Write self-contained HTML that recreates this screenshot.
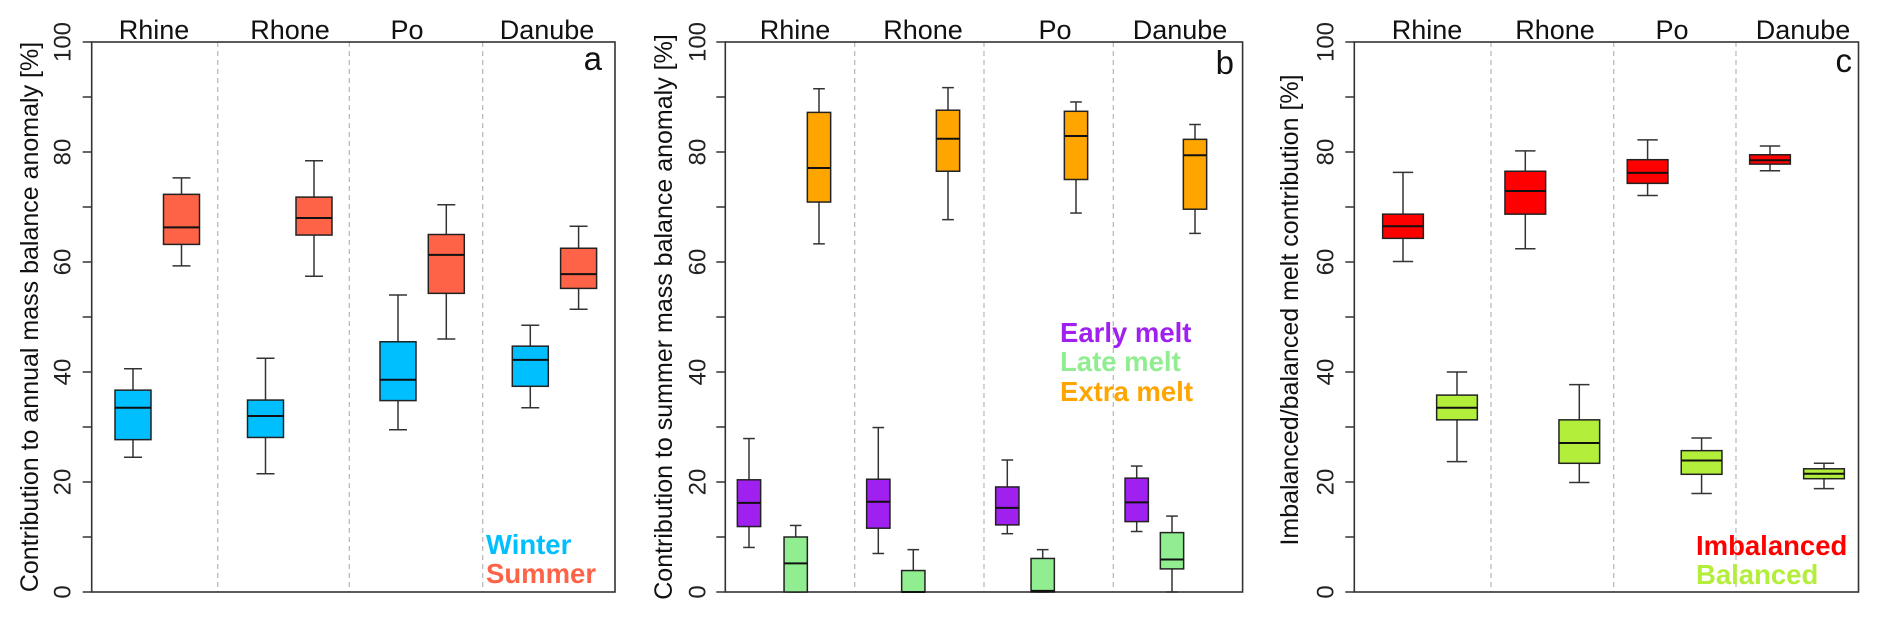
<!DOCTYPE html>
<html><head><meta charset="utf-8"><style>
html,body{margin:0;padding:0;background:#fff}
svg{display:block;font-family:"Liberation Sans",Arial,sans-serif}
</style></head><body>
<svg id="fig" width="1892" height="617" viewBox="0 0 1892 617" xmlns="http://www.w3.org/2000/svg"></svg>
<script>
// ---------- data (stats: [whiskerHigh, Q3, median, Q1, whiskerLow]) ----------
const categories = ["Rhine", "Rhone", "Po", "Danube"];
const yTicks = [0, 10, 20, 30, 40, 50, 60, 70, 80, 90, 100];
const yTickLabels = ["0", "", "20", "", "40", "", "60", "", "80", "", "100"];

const winterStats = [[40.6,36.7,33.5,27.7,24.5],[42.5,34.9,32.0,28.1,21.5],[54.0,45.5,38.6,34.8,29.5],[48.5,44.7,42.2,37.4,33.5]];
const summerStats = [[75.3,72.3,66.3,63.2,59.3],[78.4,71.8,68.0,64.9,57.4],[70.4,65.0,61.3,54.3,46.0],[66.5,62.5,57.8,55.2,51.4]];

const earlyStats = [[27.9,20.4,16.2,11.9,8.1],[29.9,20.5,16.4,11.6,7.0],[24.0,19.1,15.3,12.2,10.6],[22.9,20.7,16.3,12.8,11.0]];
const lateStats  = [[12.1,10.0,5.2,0,0],[7.7,3.9,0,0,0],[7.7,6.1,0.2,0,0],[13.8,10.8,5.9,4.2,0]];
const extraStats = [[91.5,87.2,77.1,70.9,63.3],[91.7,87.6,82.4,76.5,67.7],[89.1,87.4,82.9,75.0,68.9],[85.0,82.3,79.4,69.6,65.2]];

const imbStats = [[76.3,68.7,66.5,64.3,60.1],[80.2,76.5,72.9,68.7,62.4],[82.2,78.6,76.2,74.3,72.1],[81.1,79.5,78.5,77.8,76.6]];
const balStats = [[40.0,35.8,33.5,31.3,23.7],[37.7,31.3,27.1,23.4,19.9],[28.0,25.7,23.9,21.4,17.9],[23.4,22.4,21.5,20.6,18.8]];

// ---------- layout ----------
const Y0 = 592, Y100 = 42;
function yScale(v){ return Y0 - (v/100)*(Y0 - Y100); }
const NS = "http://www.w3.org/2000/svg";
const svg = document.getElementById('fig');
function mk(tag, attrs, parent){
  const e = document.createElementNS(NS, tag);
  for (const k in attrs) e.setAttribute(k, attrs[k]);
  (parent||svg).appendChild(e); return e;
}

const panels = [
  { id:'a', left:91.7, right:615, dividers:[217.7,349.3,482.7], catX:[154,290,407,547],
    ytitle:"Contribution to annual mass balance anomaly [%]", ytx:30, yty:317, tickLX:63,
    letterX:602, letterY:70,
    series:[
      {name:'winter', stats:winterStats, color:'#00BFFF', x:[133,265.5,398,530.3], w:36},
      {name:'summer', stats:summerStats, color:'#FF6347', x:[181.5,314,446.3,578.6], w:36}],
    legend:[{t:'Winter',c:'#00BFFF',x:486,y:554},{t:'Summer',c:'#FF6347',x:486,y:583}]},
  { id:'b', left:725.3, right:1242.6, dividers:[854.7,984,1113.3], catX:[795,923,1055,1180],
    ytitle:"Contribution to summer mass balance anomaly [%]", ytx:664, yty:317, tickLX:698,
    letterX:1234, letterY:74,
    series:[
      {name:'early-melt', stats:earlyStats, color:'#A020F0', x:[749,878.3,1007.3,1136.7], w:23.3},
      {name:'late-melt', stats:lateStats, color:'#90EE90', x:[795.7,913.3,1042.7,1172], w:23.3},
      {name:'extra-melt', stats:extraStats, color:'#FFA500', x:[819,948,1076,1195], w:23.3}],
    legend:[{t:'Early melt',c:'#A020F0',x:1060,y:342},{t:'Late melt',c:'#90EE90',x:1060,y:371},{t:'Extra melt',c:'#FFA500',x:1060,y:401}]},
  { id:'c', left:1354.3, right:1858.5, dividers:[1491,1613.7,1736], catX:[1427,1555,1672,1803],
    ytitle:"Imbalanced/balanced melt contribution [%]", ytx:1290, yty:310, tickLX:1326,
    letterX:1852, letterY:72,
    series:[
      {name:'imbalanced', stats:imbStats, color:'#FF0000', x:[1403,1525.3,1647.6,1770], w:40.7},
      {name:'balanced', stats:balStats, color:'#B3EE3A', x:[1457,1579.3,1701.6,1824], w:40.7}],
    legend:[{t:'Imbalanced',c:'#FF0000',x:1696,y:555},{t:'Balanced',c:'#B3EE3A',x:1696,y:584}]}
];

panels.forEach(p => {
  const g = mk('g', {});
  
  
  p.dividers.forEach(dx => {
    const l = mk('line', {x1:dx, x2:dx, y1:Y100, y2:Y0, stroke:'#bbb', 'stroke-width':1.3, 'stroke-dasharray':'5,4'}, g);
    
    
  });
  const fr = mk('rect', {x:p.left, y:Y100, width:p.right-p.left, height:Y0-Y100, fill:'none', stroke:'#333', 'stroke-width':1.6}, g);
  
  
  yTicks.forEach((t, i) => {
    const yy = yScale(t);
    const tk = mk('line', {x1:p.left-9, x2:p.left, y1:yy, y2:yy, stroke:'#333', 'stroke-width':1.5}, g);
    
    
    if (yTickLabels[i]) {
      const tl = mk('text', {x:0, y:0, 'font-size':24, fill:'#222', 'text-anchor':'middle', 'dominant-baseline':'central',
        transform:'translate(' + p.tickLX + ',' + yy + ') rotate(-90)'}, g);
      tl.textContent = yTickLabels[i];
      
      
    }
  });
  const yt = mk('text', {x:0, y:0, 'font-size':25, fill:'#111', 'text-anchor':'middle', 'dominant-baseline':'central',
    transform:'translate(' + p.ytx + ',' + p.yty + ') rotate(-90)'}, g);
  yt.textContent = p.ytitle;
  
  
  categories.forEach((c, i) => {
    const ct = mk('text', {x:p.catX[i], y:39, 'font-size':27, fill:'#111', 'text-anchor':'middle'}, g);
    ct.textContent = c;
    
    
  });
  const lt = mk('text', {x:p.letterX, y:p.letterY, 'font-size':33, fill:'#111', 'text-anchor':'end'}, g);
  lt.textContent = p.id;
  
  
  p.series.forEach(s => {
    s.stats.forEach((st, i) => {
      const cx = s.x[i], w = s.w, cap = w*0.5;
      const bg = mk('g', {}, g);
      
      
      const [hi, q3, med, q1, lo] = st;
      mk('line', {x1:cx, x2:cx, y1:yScale(hi), y2:yScale(q3), stroke:'#333', 'stroke-width':1.5}, bg);
      mk('line', {x1:cx, x2:cx, y1:yScale(q1), y2:yScale(lo), stroke:'#333', 'stroke-width':1.5}, bg);
      mk('line', {x1:cx-cap/2, x2:cx+cap/2, y1:yScale(hi), y2:yScale(hi), stroke:'#333', 'stroke-width':1.5}, bg);
      mk('line', {x1:cx-cap/2, x2:cx+cap/2, y1:yScale(lo), y2:yScale(lo), stroke:'#333', 'stroke-width':1.5}, bg);
      mk('rect', {x:cx-w/2, y:yScale(q3), width:w, height:Math.max(0, yScale(q1)-yScale(q3)), fill:s.color, stroke:'#222', 'stroke-width':1.5}, bg);
      mk('line', {x1:cx-w/2, x2:cx+w/2, y1:yScale(med), y2:yScale(med), stroke:'#111', 'stroke-width':2}, bg);
    });
  });
  p.legend.forEach(l => {
    const t = mk('text', {x:l.x, y:l.y, 'font-size':27.5, 'font-weight':'bold', fill:l.c}, g);
    t.textContent = l.t;
    
    
  });
});
</script>
</body></html>
